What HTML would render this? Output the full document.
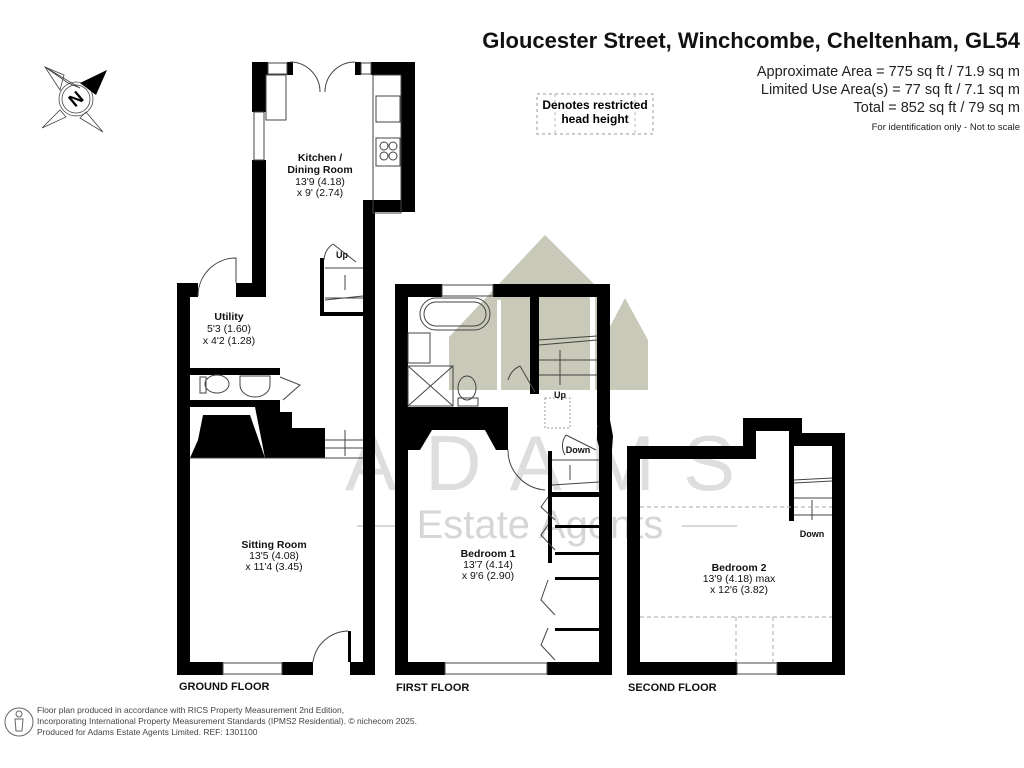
<!DOCTYPE html>
<html><head><meta charset="utf-8"><style>
html,body{margin:0;padding:0;background:#fff;}
svg{display:block;font-family:"Liberation Sans",Arial,sans-serif;}
</style></head><body>
<svg width="1024" height="768" viewBox="0 0 1024 768" xmlns="http://www.w3.org/2000/svg">
<rect width="1024" height="768" fill="#fff"/>
<g fill="#c9c9b9">
<polygon points="449,337 545,235 600,290 600,390 449,390"/>
<polygon points="603,340 625,298 648,340 648,390 603,390"/>
</g>
<g fill="#fff">
<rect x="497" y="300" width="4" height="90"/>
<rect x="590" y="290" width="5" height="100"/>
</g>
<text x="345" y="490" font-size="78" fill="#dedede" textLength="390" lengthAdjust="spacing">ADAMS</text>
<text x="540" y="538" font-size="40" fill="#d6d6d6" text-anchor="middle">Estate Agents</text>
<line x1="357" y1="526" x2="402" y2="526" stroke="#ccc" stroke-width="1.5"/>
<line x1="682" y1="526" x2="737" y2="526" stroke="#ccc" stroke-width="1.5"/>

<text x="1020" y="48" font-size="22" font-weight="bold" text-anchor="end" fill="#111">Gloucester Street, Winchcombe, Cheltenham, GL54</text>
<g font-size="14.5" text-anchor="end" fill="#222">
<text x="1020" y="76">Approximate Area = 775 sq ft / 71.9 sq m</text>
<text x="1020" y="94">Limited Use Area(s) = 77 sq ft / 7.1 sq m</text>
<text x="1020" y="112">Total = 852 sq ft / 79 sq m</text>
</g>
<text x="1020" y="130" font-size="9.5" text-anchor="end" fill="#222">For identification only - Not to scale</text>
<rect x="537" y="94" width="116" height="40" fill="none" stroke="#999" stroke-dasharray="3,3"/>
<line x1="555" y1="94" x2="555" y2="134" stroke="#bbb" stroke-dasharray="3,3"/>
<line x1="635" y1="94" x2="635" y2="134" stroke="#bbb" stroke-dasharray="3,3"/>
<text x="595" y="109" font-size="12" font-weight="bold" text-anchor="middle">Denotes restricted</text>
<text x="595" y="123" font-size="12" font-weight="bold" text-anchor="middle">head height</text>

<g stroke="#444" stroke-width="0.8" fill="none">
<polygon points="45,67 68,83 80,88"/>
<polygon points="45,67 60,90 64,75"/>
<polygon points="42,128 60,110 66,117"/>
<polygon points="103,132 86,112 80,118"/>
<circle cx="76" cy="99" r="17"/>
<circle cx="76" cy="99" r="14"/>
</g>
<polygon points="107,70 80,83 96,95" fill="#000"/>
<text x="76" y="105" font-size="18" font-weight="bold" text-anchor="middle" transform="rotate(-40 76 99)">N</text>

<g fill="#000">
<rect x="252" y="62" width="14" height="50"/>
<rect x="252" y="160" width="14" height="137"/>
<rect x="236" y="283" width="30" height="14"/>
<rect x="252" y="62" width="16" height="13"/>
<rect x="287" y="62" width="6" height="13"/>
<rect x="355" y="62" width="6" height="13"/>
<rect x="371" y="62" width="44" height="13"/>
<rect x="401" y="62" width="14" height="150"/>
<rect x="363" y="200" width="52" height="12"/>
<rect x="363" y="200" width="12" height="475"/>
<rect x="177" y="283" width="21" height="14"/>
<rect x="177" y="283" width="13" height="392"/>
<rect x="177" y="662" width="46" height="13"/>
<rect x="282" y="662" width="31" height="13"/>
<rect x="350" y="662" width="25" height="13"/>
<rect x="348" y="631" width="3" height="31"/>
<rect x="190" y="368" width="90" height="7"/>
<rect x="190" y="400" width="90" height="7"/>
<rect x="320" y="258" width="4" height="58"/>
<rect x="320" y="312" width="45" height="4"/>
<polygon points="203,415 250,415 265,458 190,458 198,440"/>
<polygon points="255,407 280,407 280,412 292,412 292,428 325,428 325,458 265,458"/>
<rect x="395" y="284" width="47" height="13"/>
<rect x="493" y="284" width="117" height="13"/>
<rect x="395" y="284" width="13" height="391"/>
<rect x="395" y="662" width="50" height="13"/>
<rect x="547" y="662" width="65" height="13"/>
<rect x="530" y="284" width="9" height="110"/>
<rect x="597" y="284" width="13" height="142"/>
<polygon points="597,420 610,420 613,436 612,450 600,450"/>
<polygon points="597,426 612,444 612,450 600,450 597,440"/>
<rect x="599" y="440" width="13" height="235"/>
<polygon points="408,407 508,407 508,450 496,450 485,430 432,430 420,450 408,450"/>
<rect x="548" y="451" width="4" height="112"/>
<rect x="548" y="492" width="51" height="5"/>
<rect x="555" y="525" width="44" height="3"/>
<rect x="555" y="552" width="44" height="3"/>
<rect x="555" y="577" width="44" height="3"/>
<rect x="555" y="628" width="44" height="3"/>
<path d="M627,446 L743,446 L743,418 L802,418 L802,433 L845,433 L845,675 L777,675 L777,662 L832,662 L832,446 L789,446 L789,431 L756,431 L756,459 L640,459 L640,662 L737,662 L737,675 L627,675 Z"/>
<rect x="789" y="446" width="5" height="75"/>
</g>
<g fill="none" stroke="#444" stroke-width="1">
<rect x="268" y="63" width="19" height="11"/><rect x="361" y="63" width="10" height="11"/>
<rect x="254" y="112" width="10" height="48"/>
<rect x="223" y="663" width="59" height="11"/>
<rect x="442" y="285" width="51" height="11"/>
<rect x="445" y="663" width="102" height="11"/>
<rect x="737" y="663" width="40" height="11"/>
<path d="M290,62 A30,30 0 0 1 320,92 M355,62 A30,30 0 0 0 325,92"/>
<path d="M198,296 A38,38 0 0 1 236,258 L236,283"/>
<path d="M313,662 A36,36 0 0 1 348,631"/>
<rect x="266" y="75" width="20" height="45"/>
<rect x="373" y="75" width="28" height="138"/>
<rect x="376" y="96" width="24" height="26"/><rect x="376" y="138" width="24" height="28"/>
<circle cx="384" cy="146" r="4"/><circle cx="393" cy="146" r="4"/><circle cx="384" cy="156" r="4"/><circle cx="393" cy="156" r="4"/>
<path d="M325,268 L363,268 M325,298 L363,298 M325,300 L363,296 M345,275 L345,290"/>
<path d="M333,244 L356,262 M333,244 A20,20 0 0 0 324,260"/>
<path d="M325,440 L363,440 M325,448 L363,448 M345,430 L345,456"/>
<line x1="190" y1="458" x2="363" y2="458"/>
<ellipse cx="217" cy="384" rx="12" ry="9"/><rect x="200" y="377" width="6" height="16"/>
<path d="M240,376 L270,376 L270,385 A15,12 0 0 1 240,385 Z"/>
<path d="M280,377 L300,385 L283,400"/>
<rect x="420" y="298" width="70" height="32" rx="16"/><rect x="424" y="302" width="62" height="24" rx="12"/>
<rect x="408" y="333" width="22" height="30"/>
<rect x="408" y="366" width="45" height="40"/>
<line x1="408" y1="366" x2="453" y2="406"/><line x1="453" y1="366" x2="408" y2="406"/>
<ellipse cx="467" cy="388" rx="9" ry="12"/><rect x="458" y="398" width="20" height="8"/>
<path d="M508,380 A22,22 0 0 1 520,366 L535,392"/>
<path d="M508,450 A40,40 0 0 0 545,490"/>
<path d="M539,340 L597,336 M539,345 L597,340 M539,360 L597,360 M539,375 L597,375 M560,350 L560,385"/>
<rect x="545" y="398" width="25" height="30" stroke-dasharray="2,2" stroke="#999"/>
<path d="M552,460 L599,460 M552,485 L599,482 M570,465 L570,480"/>
<path d="M566,435 L596,450 M566,435 A18,18 0 0 0 565,455"/>
<path d="M548,497 L541,507 L555,520 M548,525 L541,535 L555,550 M548,580 L541,600 L555,615 M548,628 L541,645 L555,660"/>
<path d="M794,480 L832,478 M794,483 L832,481 M794,498 L832,498 M794,515 L832,515 M812,500 L812,520"/>
</g>
<g stroke="#aaa" stroke-dasharray="4,3" fill="none">
<line x1="640" y1="507" x2="832" y2="507"/>
<line x1="640" y1="617" x2="832" y2="617"/>
<line x1="736" y1="617" x2="736" y2="662"/>
<line x1="773" y1="617" x2="773" y2="662"/>
</g>
<g font-size="10.5" text-anchor="middle" fill="#111">
<text x="320" y="161" font-weight="bold">Kitchen /</text>
<text x="320" y="173" font-weight="bold">Dining Room</text>
<text x="320" y="185">13'9 (4.18)</text><text x="320" y="196">x 9' (2.74)</text>
<text x="229" y="320" font-weight="bold">Utility</text>
<text x="229" y="332">5'3 (1.60)</text><text x="229" y="344">x 4'2 (1.28)</text>
<text x="274" y="548" font-weight="bold">Sitting Room</text>
<text x="274" y="559">13'5 (4.08)</text><text x="274" y="570">x 11'4 (3.45)</text>
<text x="488" y="557" font-weight="bold">Bedroom 1</text>
<text x="488" y="568">13'7 (4.14)</text><text x="488" y="579">x 9'6 (2.90)</text>
<text x="739" y="571" font-weight="bold">Bedroom 2</text>
<text x="739" y="582">13'9 (4.18) max</text><text x="739" y="593">x 12'6 (3.82)</text>
<text x="342" y="258" font-size="9" font-weight="bold">Up</text>
<text x="560" y="398" font-size="9" font-weight="bold">Up</text>
<text x="578" y="453" font-size="9" font-weight="bold">Down</text>
<text x="812" y="537" font-size="9" font-weight="bold">Down</text>
</g>
<g font-size="11" font-weight="bold" fill="#111">
<text x="179" y="690">GROUND FLOOR</text>
<text x="396" y="691">FIRST FLOOR</text>
<text x="628" y="691">SECOND FLOOR</text>
</g>
<circle cx="19" cy="722" r="14" fill="none" stroke="#666"/>
<circle cx="19" cy="714" r="3" fill="none" stroke="#666"/>
<path d="M15,719 L23,719 L22,731 L16,731 Z" fill="none" stroke="#666"/>
<g font-size="8.5" fill="#444">
<text x="37" y="713">Floor plan produced in accordance with RICS Property Measurement 2nd Edition,</text>
<text x="37" y="724">Incorporating International Property Measurement Standards (IPMS2 Residential).   © nichecom 2025.</text>
<text x="37" y="735">Produced for Adams Estate Agents Limited.   REF: 1301100</text>
</g>
</svg>
</body></html>
